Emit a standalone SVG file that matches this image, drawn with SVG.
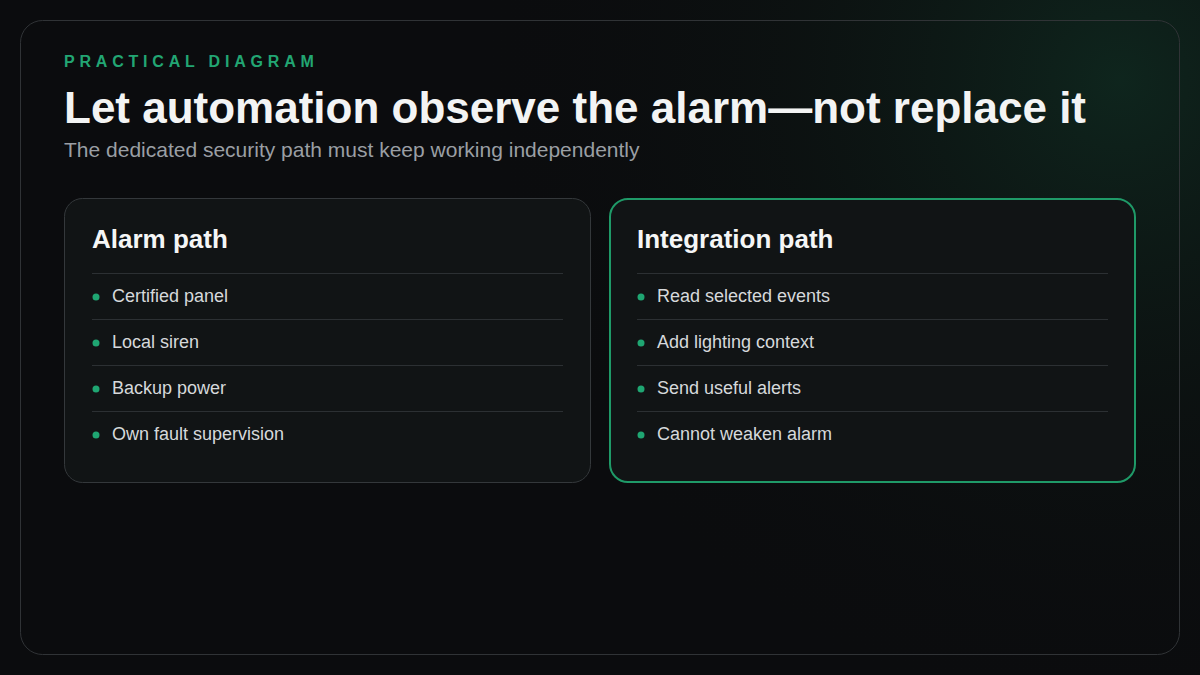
<svg xmlns="http://www.w3.org/2000/svg" width="1200" height="675" viewBox="0 0 1200 675">
<defs>
<radialGradient id="glow" cx="1120" cy="80" r="650" gradientUnits="userSpaceOnUse">
<stop offset="0" stop-color="#0f281f" stop-opacity="0.9"/>
<stop offset="0.5" stop-color="#0d1714" stop-opacity="0.5"/>
<stop offset="1" stop-color="#0b0c0e" stop-opacity="0"/>
</radialGradient>
<style>
.eyebrow{font-family:"Liberation Sans",Arial,sans-serif;font-size:16px;font-weight:700;fill:#22a673;letter-spacing:4.8px}
.title{font-family:"Liberation Sans",Arial,sans-serif;font-size:44px;font-weight:700;fill:#f3f4f4}
.sub{font-family:"Liberation Sans",Arial,sans-serif;font-size:21px;fill:#9a9fa4}
.card{fill:#111415;stroke:#34383b;stroke-width:1}
.card.hl{stroke:#1f9a68;stroke-width:2}
.ctitle{font-family:"Liberation Sans",Arial,sans-serif;font-size:26px;font-weight:700;fill:#f5f6f6}
.item{font-family:"Liberation Sans",Arial,sans-serif;font-size:18px;fill:#d6d9db}
.div{stroke:#2c3033;stroke-width:1}
.dot{fill:#1fa672}
</style>
</defs>
<rect width="1200" height="675" fill="#0b0c0e"/>
<rect width="1200" height="675" fill="url(#glow)"/>
<rect x="20.5" y="20.5" width="1159" height="634" rx="22" fill="none" stroke="#303336" stroke-width="1"/>
<text class="eyebrow" x="64" y="67">PRACTICAL DIAGRAM</text>
<text class="title" x="64" y="123">Let automation observe the alarm—not replace it</text>
<text class="sub" x="64" y="157">The dedicated security path must keep working independently</text>
<g id="alarm-path">
<rect class="card" x="64.5" y="198.5" width="526" height="284" rx="18"/>
<text class="ctitle" x="92" y="248">Alarm path</text>
<line class="div" x1="92" y1="273.5" x2="563" y2="273.5"/>
<circle class="dot" cx="96" cy="297" r="3.5"/>
<text class="item" x="112" y="302">Certified panel</text>
<line class="div" x1="92" y1="319.5" x2="563" y2="319.5"/>
<circle class="dot" cx="96" cy="343" r="3.5"/>
<text class="item" x="112" y="348">Local siren</text>
<line class="div" x1="92" y1="365.5" x2="563" y2="365.5"/>
<circle class="dot" cx="96" cy="389" r="3.5"/>
<text class="item" x="112" y="394">Backup power</text>
<line class="div" x1="92" y1="411.5" x2="563" y2="411.5"/>
<circle class="dot" cx="96" cy="435" r="3.5"/>
<text class="item" x="112" y="440">Own fault supervision</text>
</g>
<g id="integration-path">
<rect class="card hl" x="610" y="199" width="525" height="283" rx="18"/>
<text class="ctitle" x="637" y="248">Integration path</text>
<line class="div" x1="637" y1="273.5" x2="1108" y2="273.5"/>
<circle class="dot" cx="641" cy="297" r="3.5"/>
<text class="item" x="657" y="302">Read selected events</text>
<line class="div" x1="637" y1="319.5" x2="1108" y2="319.5"/>
<circle class="dot" cx="641" cy="343" r="3.5"/>
<text class="item" x="657" y="348">Add lighting context</text>
<line class="div" x1="637" y1="365.5" x2="1108" y2="365.5"/>
<circle class="dot" cx="641" cy="389" r="3.5"/>
<text class="item" x="657" y="394">Send useful alerts</text>
<line class="div" x1="637" y1="411.5" x2="1108" y2="411.5"/>
<circle class="dot" cx="641" cy="435" r="3.5"/>
<text class="item" x="657" y="440">Cannot weaken alarm</text>
</g>
<g id="connectors"/>
</svg>
